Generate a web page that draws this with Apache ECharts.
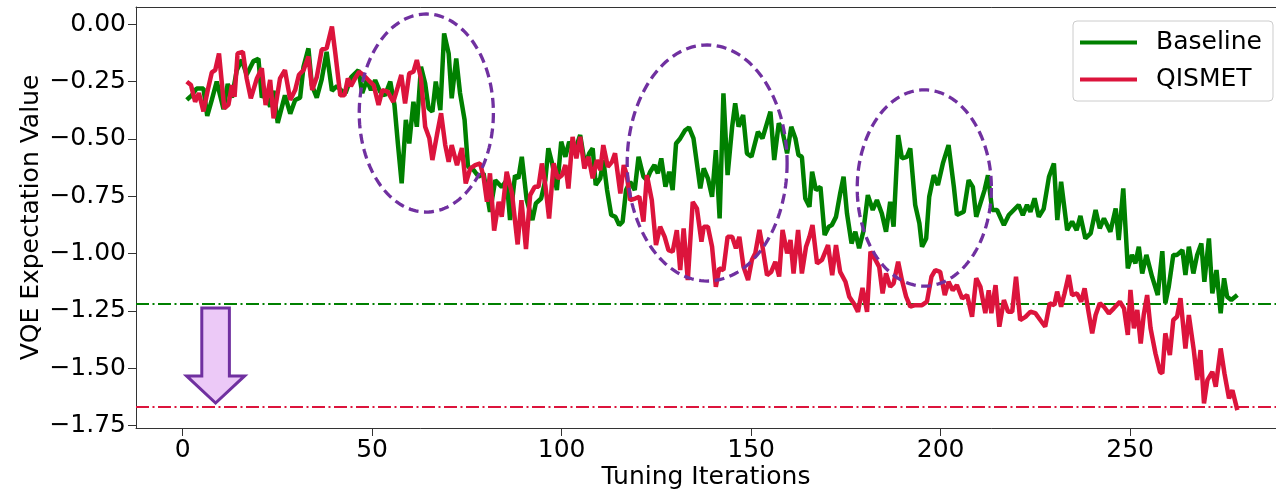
<!DOCTYPE html>
<html>
<head>
<meta charset="utf-8">
<script src="https://cdn.jsdelivr.net/npm/echarts@6/dist/echarts.min.js"></script>
<style>html,body{margin:0;padding:0;background:#fff;}#c{width:1276px;height:492px;}</style>
</head>
<body>
<div id="c"></div>
<script>
const xTicks = [0, 50, 100, 150, 200, 250];
const yTicks = [-1.75, -1.5, -1.25, -1.0, -0.75, -0.5, -0.25, 0.0];

const baselineX = [1.1,2.4,3.7,5.5,6.5,7.7,9,10.8,11.9,13,14.3,15.6,16.9,18.7,20,20.9,21.8,23.1,24,25.1,26.2,27,28.4,29.7,31,31.9,33.2,34.1,35.4,36.7,38,39.4,40.7,42,43,44.5,46.4,47.4,48.6,49.7,50.8,52.1,53.4,54.8,55.9,56.8,57.8,58.9,59.8,60.9,61.8,62.9,64,64.9,65.9,66.8,68,69,70.2,71,72.2,73.2,74.4,75.3,76.8,78.1,79.4,81.1,82.5,84.2,85.5,86.4,87.7,88.6,89.5,90.8,92.3,93.2,94.6,95.7,96.5,97.6,98.75,99.9,101,102,103.4,104.9,106.2,107.3,108.2,109,110.2,111,112,113.1,114.2,115.2,116.1,117,118.1,119.3,120.3,121.6,122.5,123.4,124.5,125.4,126.3,127.4,128.4,129.3,130.2,131.3,132.6,133.6,134.8,136.6,137.5,138.6,139.7,140.7,141.7,142.7,143.8,145,145.8,146.7,147.9,148.9,150.1,151.8,153,155.1,156.1,157.3,158.2,159.5,160.6,161.7,162.5,163.4,164.3,165.4,166.1,167.1,168.3,169.4,170.5,171.3,172.4,173.5,174.4,175.3,176.5,177.5,178.5,179.6,180.8,182.1,183.2,184.5,185.6,186.7,187.6,188.8,189.8,191.1,192,193.3,194.4,195.1,196.2,197,198.2,199.3,200.6,202.1,203.5,204.3,206.1,207.4,208.5,209.4,210.5,211.6,212.5,213.6,214.9,216.7,218,219.3,220.6,221.7,222.8,223.7,224.8,225.9,227.2,228.6,229.9,230.8,231.8,233.4,234.7,235.9,236.9,238.2,239.6,240.9,242,243.1,244.8,246.2,247,248.2,249.4,250.5,251.4,252.3,253.2,254.3,255.8,257.3,258.5,259.3,260.2,261.4,262.4,263.8,264.6,265.5,266.7,267.7,268.8,269.6,270.8,271.7,272.8,273.9,274.8,275.6,276.7,278.3];
const baselineY = [-0.33,-0.31,-0.28,-0.28,-0.40,-0.33,-0.25,-0.37,-0.26,-0.32,-0.20,-0.155,-0.22,-0.16,-0.15,-0.32,-0.29,-0.36,-0.29,-0.43,-0.36,-0.31,-0.39,-0.33,-0.32,-0.185,-0.105,-0.265,-0.32,-0.24,-0.12,-0.29,-0.27,-0.29,-0.30,-0.23,-0.20,-0.30,-0.243,-0.287,-0.243,-0.294,-0.31,-0.25,-0.352,-0.52,-0.694,-0.417,-0.52,-0.338,-0.447,-0.185,-0.258,-0.366,-0.381,-0.25,-0.374,-0.04,-0.127,-0.323,-0.149,-0.30,-0.417,-0.621,-0.636,-0.665,-0.65,-0.818,-0.68,-0.71,-0.68,-0.854,-0.66,-0.672,-0.578,-0.767,-0.854,-0.781,-0.76,-0.68,-0.541,-0.614,-0.723,-0.512,-0.578,-0.512,-0.556,-0.483,-0.614,-0.563,-0.541,-0.701,-0.672,-0.592,-0.723,-0.832,-0.84,-0.876,-0.861,-0.723,-0.687,-0.723,-0.578,-0.665,-0.68,-0.643,-0.614,-0.65,-0.585,-0.708,-0.643,-0.723,-0.52,-0.498,-0.462,-0.45,-0.498,-0.716,-0.628,-0.672,-0.752,-0.549,-0.847,-0.301,-0.658,-0.447,-0.345,-0.447,-0.396,-0.563,-0.578,-0.469,-0.498,-0.381,-0.592,-0.432,-0.461,-0.563,-0.447,-0.498,-0.57,-0.578,-0.76,-0.796,-0.643,-0.723,-0.709,-0.919,-0.883,-0.876,-0.84,-0.738,-0.665,-0.825,-0.956,-0.905,-0.977,-0.905,-0.745,-0.81,-0.767,-0.825,-0.905,-0.774,-0.883,-0.483,-0.585,-0.578,-0.541,-0.788,-0.868,-0.97,-0.934,-0.752,-0.658,-0.701,-0.607,-0.527,-0.709,-0.832,-0.818,-0.68,-0.709,-0.84,-0.781,-0.723,-0.658,-0.81,-0.81,-0.876,-0.832,-0.81,-0.788,-0.832,-0.788,-0.818,-0.759,-0.84,-0.805,-0.665,-0.607,-0.854,-0.687,-0.898,-0.861,-0.898,-0.836,-0.934,-0.912,-0.81,-0.89,-0.847,-0.905,-0.803,-0.941,-0.716,-1.065,-1.006,-1.043,-0.97,-1.087,-1.006,-1.101,-1.181,-0.99,-1.217,-1.145,-1.006,-1.006,-0.985,-1.094,-0.97,-1.087,-1.006,-0.956,-1.123,-0.934,-1.174,-1.072,-1.261,-1.108,-1.188,-1.203,-1.181];

const qismetX = [1.1,2.2,3.3,4.3,5.5,6.6,7.7,8.6,9.6,11,12.1,13,13.7,14.5,15.9,16.9,18,19.6,20.9,21.9,23.1,24,25.7,27,28.4,29.7,30.7,31.9,33.2,34.2,35.4,36.7,38,39.4,40.3,41.6,42.7,43.6,44.4,45.5,46.6,47.7,49,50.4,51.7,52.7,54.1,55.6,56.8,57.7,58.7,59.8,60.9,61.8,62.9,64,65.1,65.9,67.1,68.2,69.3,70.2,71,72.4,73.7,74.7,75.9,77.2,78.5,79.4,80.3,81.1,82.2,83.4,84.2,85.5,86.9,88.4,89.4,90.6,91.7,92.9,93.9,94.8,95.7,96.7,97.9,99,100.1,101,101.8,102.9,103.9,104.9,106,107.1,108.2,109.3,110.2,111,112.2,113.3,114.1,115.5,116.4,117.2,118.1,119.4,120.5,121.6,122.5,123.8,124.9,126,127.2,128.2,129.3,130.4,131.3,132.2,133.3,134.6,135.7,136.9,137.5,138.6,139.7,140.7,141.6,142.7,143.8,145,146,146.9,148,149.2,150.2,151.1,152.2,153,154.2,155.3,156.4,157.4,158.3,159.5,160.4,161.2,162.4,163.4,164.5,165.4,166.2,167.4,168.7,170.3,171.4,172.4,173.5,174.9,175.9,177.1,178.2,179.4,180.6,181.5,182.6,183.8,184.7,185.6,186.7,187.6,188.8,189.8,190.9,192,193.3,195.1,196.4,197.6,198.6,199.9,201.1,202.1,203.2,204.3,205.7,207,208.3,209.4,210.5,211.8,212.7,213.4,214.5,215.5,216.7,217.8,218.9,219.9,221,222.4,223.7,225,226.3,227.6,228.8,230,230.75,231.8,232.7,233.8,234.7,236,237.1,238,239.1,240,240.9,242,243.1,244.4,245.7,247.3,248.4,249.4,250.1,251,251.9,252.8,253.6,254.5,255.4,256.7,257.9,258.5,259.3,260.5,261.4,262.4,263.3,264.6,265.5,266.8,267.7,268.6,269.5,270.4,271.7,272.6,273.9,274.9,276.1,277,278.3];
const qismetY = [-0.25,-0.265,-0.338,-0.30,-0.38,-0.29,-0.21,-0.20,-0.127,-0.367,-0.35,-0.265,-0.316,-0.127,-0.12,-0.236,-0.323,-0.236,-0.192,-0.352,-0.243,-0.41,-0.236,-0.2,-0.33,-0.287,-0.22,-0.2,-0.14,-0.287,-0.23,-0.11,-0.105,-0.01,-0.127,-0.31,-0.31,-0.236,-0.27,-0.236,-0.207,-0.221,-0.243,-0.265,-0.352,-0.287,-0.294,-0.338,-0.272,-0.221,-0.345,-0.214,-0.207,-0.156,-0.236,-0.447,-0.497,-0.592,-0.483,-0.388,-0.527,-0.60,-0.527,-0.614,-0.54,-0.694,-0.629,-0.614,-0.607,-0.665,-0.774,-0.65,-0.90,-0.774,-0.84,-0.643,-0.737,-0.96,-0.767,-0.98,-0.745,-0.709,-0.709,-0.607,-0.701,-0.847,-0.607,-0.672,-0.658,-0.614,-0.716,-0.491,-0.585,-0.491,-0.629,-0.578,-0.672,-0.592,-0.636,-0.527,-0.621,-0.6,-0.563,-0.738,-0.614,-0.658,-0.767,-0.76,-0.752,-0.861,-0.658,-0.767,-0.963,-0.883,-0.927,-0.985,-0.992,-0.898,-1.072,-0.89,-1.116,-0.775,-0.803,-0.948,-0.883,-0.883,-0.97,-1.145,-1.065,-1.072,-0.927,-0.927,-0.977,-0.927,-1.058,-1.116,-1.028,-0.999,-0.897,-0.97,-1.094,-1.08,-1.036,-1.1,-0.897,-0.999,-0.941,-1.087,-0.897,-1.087,-0.97,-0.927,-0.876,-1.043,-1.028,-0.963,-1.094,-0.963,-1.08,-1.123,-1.188,-1.218,-1.254,-1.15,-1.254,-0.992,-1.021,-1.058,-1.174,-1.087,-1.145,-1.13,-1.036,-1.116,-1.188,-1.232,-1.225,-1.225,-1.21,-1.101,-1.072,-1.08,-1.181,-1.123,-1.16,-1.138,-1.196,-1.181,-1.276,-1.108,-1.145,-1.26,-1.16,-1.26,-1.138,-1.319,-1.203,-1.254,-1.254,-1.101,-1.29,-1.276,-1.254,-1.26,-1.29,-1.319,-1.217,-1.225,-1.166,-1.232,-1.174,-1.094,-1.181,-1.174,-1.21,-1.152,-1.261,-1.348,-1.268,-1.217,-1.232,-1.261,-1.239,-1.21,-1.239,-1.355,-1.159,-1.326,-1.246,-1.392,-1.268,-1.181,-1.326,-1.436,-1.516,-1.523,-1.348,-1.443,-1.29,-1.275,-1.195,-1.414,-1.268,-1.421,-1.552,-1.421,-1.654,-1.552,-1.516,-1.581,-1.414,-1.523,-1.632,-1.596,-1.683];

const baselineRef = -1.222;
const qismetRef = -1.670;

// annotation geometry in data units: [cx, cy, rx, ry]
const ellipses = [[64.3, -0.387, 17.7, 0.432], [138.4, -0.605, 21.1, 0.515], [195.7, -0.714, 17.7, 0.428]];
// arrow: [x, yTop, yHeadBase, yTip, shaftHalfWidth, headHalfWidth]
const arrow = [[8.7, -1.238, -1.534, -1.652, 3.64, 7.66]];

const FONT = 'DejaVu Sans';
const zip = (xs, ys) => xs.map((x, i) => [x, ys[i]]);
const fmtY = v => v.toFixed(2).replace('-', '\u2212');
const X_MIN = -12.3, X_MAX = 288.5;

const chart = echarts.init(document.getElementById('c'), null, {renderer: 'canvas'});
chart.setOption({
  animation: false,
  backgroundColor: '#fff',
  grid: {left: 136, right: 0, top: 7, bottom: 64, show: false, containLabel: false, outerBoundsMode: 'none'},
  xAxis: [{
    type: 'value', min: X_MIN, max: X_MAX, position: 'bottom',
    name: 'Tuning Iterations', nameLocation: 'middle', nameGap: 37, nameMoveOverlap: false,
    nameTextStyle: {fontFamily: FONT, fontSize: 25, color: '#000'},
    axisLine: {show: true, onZero: false, lineStyle: {color: '#333', width: 1}},
    axisTick: {show: true, length: 8, customValues: xTicks, lineStyle: {color: '#333', width: 1}},
    axisLabel: {customValues: xTicks, fontFamily: FONT, fontSize: 25, color: '#000', margin: 10, formatter: v => String(v)},
    splitLine: {show: false}
  }, {
    type: 'value', min: X_MIN, max: X_MAX, position: 'top',
    axisLine: {show: true, onZero: false, lineStyle: {color: '#333', width: 1}},
    axisTick: {show: false}, axisLabel: {show: false}, splitLine: {show: false}
  }],
  yAxis: {
    type: 'value', min: -1.761, max: 0.0755,
    name: 'VQE Expectation Value', nameLocation: 'middle', nameGap: 92, nameRotate: 90, nameMoveOverlap: false,
    nameTextStyle: {fontFamily: FONT, fontSize: 25, color: '#000'},
    axisLine: {show: true, onZero: false, lineStyle: {color: '#333', width: 1}},
    axisTick: {show: true, length: 8, customValues: yTicks, lineStyle: {color: '#333', width: 1}},
    axisLabel: {customValues: yTicks, fontFamily: FONT, fontSize: 25, color: '#000', margin: 10, formatter: fmtY},
    splitLine: {show: false}
  },
  legend: {
    data: ['Baseline', 'QISMET'], orient: 'vertical', left: 1073, top: 21,
    backgroundColor: '#fff', borderColor: '#ccc', borderWidth: 1, borderRadius: 4,
    padding: [9, 11, 9, 7], itemGap: 12, itemWidth: 57, itemHeight: 4, icon: 'rect',
    textStyle: {fontFamily: FONT, fontSize: 25, color: '#000', padding: [0, 0, 0, 14]}
  },
  series: [
    {
      name: 'Baseline', type: 'line', data: zip(baselineX, baselineY), symbol: 'none', z: 3,
      lineStyle: {color: '#008000', width: 4.5}, itemStyle: {color: '#008000'},
      markLine: {silent: true, symbol: 'none', label: {show: false}, z: 2,
        lineStyle: {color: '#008000', width: 2, type: [13, 3.5, 2, 3.5]}, data: [{yAxis: baselineRef}]}
    },
    {
      name: 'QISMET', type: 'line', data: zip(qismetX, qismetY), symbol: 'none', z: 4,
      lineStyle: {color: '#dc143c', width: 4.5}, itemStyle: {color: '#dc143c'},
      markLine: {silent: true, symbol: 'none', label: {show: false}, z: 2,
        lineStyle: {color: '#dc143c', width: 2, type: [13, 3.5, 2, 3.5]}, data: [{yAxis: qismetRef}]}
    },
    {
      type: 'custom', silent: true, z: 10, clip: false, data: ellipses,
      renderItem: (params, api) => {
        const c = api.coord([api.value(0), api.value(1)]);
        const s = api.size([api.value(2), api.value(3)]);
        const pts = [];
        for (let k = 0; k <= 160; k++) {
          const t = k / 160 * Math.PI * 2;
          pts.push([c[0] + s[0] * Math.cos(t), c[1] + s[1] * Math.sin(t)]);
        }
        return {type: 'polyline', shape: {points: pts},
          style: {fill: null, stroke: '#7030a0', lineWidth: 3.3, lineDash: [10, 5.5]}};
      }
    },
    {
      type: 'custom', silent: true, z: 10, clip: false, data: arrow,
      renderItem: (params, api) => {
        const x = api.value(0), yT = api.value(1), yB = api.value(2), yP = api.value(3), sw = api.value(4), hw = api.value(5);
        const pts = [[x - sw, yT], [x + sw, yT], [x + sw, yB], [x + hw, yB], [x, yP], [x - hw, yB], [x - sw, yB]].map(p => api.coord(p));
        return {type: 'polygon', shape: {points: pts},
          style: {fill: '#ecc9f7', stroke: '#7030a0', lineWidth: 3, lineJoin: 'miter'}};
      }
    }
  ]
});
</script>
</body>
</html>
